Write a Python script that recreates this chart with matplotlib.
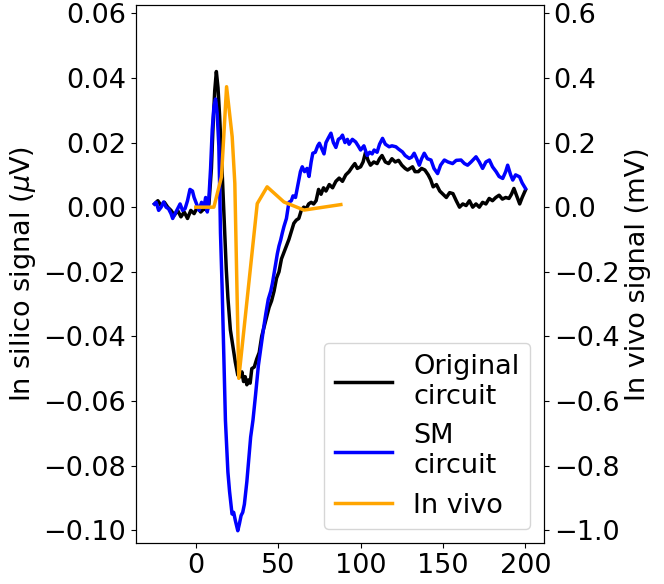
import matplotlib
matplotlib.use('Agg')
import matplotlib.pyplot as plt
import numpy as np

# Original circuit (in silico, uV)
orig_t = [-25, -23, -21, -19, -17, -15, -13, -11, -9, -7, -5, -3, -1, 1, 3, 5, 7, 8,
          9.5, 10.5, 11.5, 12.5, 13.5, 14.5, 15.5, 16.5, 17.5, 18.5, 19.5, 21, 22.5, 24,
          25.5, 27, 28, 29, 30, 31, 32, 33, 34, 35.5, 37, 38.5, 40, 41.5, 43, 44.5, 46,
          47.5, 49, 50.5, 52, 53.5, 55, 56.5, 58, 59.5, 61, 62.5, 64, 65.5, 67, 68.5, 70,
          71.5, 73, 74.5, 76, 77.5, 79, 81, 83, 85, 87, 89, 91, 93, 95, 96.5, 98, 100,
          101.5, 103, 104.5, 106, 108, 110, 111.5, 113, 115, 117, 119, 121, 123, 125, 127,
          128.5, 130, 131.5, 133, 135, 137, 139, 141, 142.5, 144, 146, 148, 150, 152, 154,
          156, 158, 160, 162, 164, 166, 168, 170, 172, 174, 176, 178, 180, 182, 184, 186,
          188, 190, 191.5, 193, 195, 196.5, 198, 200]
orig_v = [0.001, 0.002, 0.0005, 0.0015, 0.0, -0.001, -0.0025, -0.001, -0.003, -0.0015,
          -0.0035, -0.001, -0.002, 0.0, -0.0015, -0.0005, -0.001, 0.001,
          0.012, 0.025, 0.036, 0.042, 0.037, 0.028, 0.017, 0.005, -0.007, -0.019, -0.028,
          -0.038, -0.043, -0.048, -0.052, -0.0525, -0.051, -0.054, -0.0525, -0.055,
          -0.0535, -0.0545, -0.050, -0.0495, -0.047, -0.045, -0.040, -0.037, -0.034,
          -0.031, -0.029, -0.026, -0.022, -0.020, -0.016, -0.014, -0.012, -0.010, -0.0075,
          -0.005, -0.004, -0.0035, -0.001, 0.0, -0.0005, 0.001, 0.0015, 0.001, 0.002,
          0.0055, 0.004, 0.006, 0.005, 0.007, 0.006, 0.008, 0.009, 0.008, 0.010, 0.011,
          0.0125, 0.0135, 0.012, 0.0125, 0.014, 0.017, 0.0145, 0.013, 0.014, 0.0135,
          0.015, 0.016, 0.014, 0.0135, 0.015, 0.014, 0.0145, 0.013, 0.012, 0.0115, 0.012,
          0.0125, 0.011, 0.011, 0.012, 0.0115, 0.010, 0.0085, 0.0063, 0.007, 0.005, 0.004,
          0.003, 0.0045, 0.0042, 0.002, 0.0, 0.001, 0.0005, 0.002, 0.0, 0.001, 0.0,
          0.0015, 0.001, 0.0027, 0.002, 0.003, 0.0037, 0.0025, 0.003, 0.0027, 0.004,
          0.0058, 0.003, 0.001, 0.003, 0.0053]

# SM circuit (in silico, uV)
sm_t = [-25, -24, -22.5, -21, -19.5, -18, -16.5, -15, -14, -12.5, -11, -9.5, -8, -6.5, -5,
        -3.5, -2, -1, 0.5, 2, 3.5, 5, 6, 7, 8, 9, 10, 11, 12, 13, 14, 14.6, 15, 16, 17,
        18, 19.5, 20.5, 22, 23, 24, 25.5, 26.5, 27.5, 28.5, 29.5, 31, 32, 33.3, 34.7,
        36.3, 38, 39.3, 41, 42.5, 44, 45.5, 46.5, 48, 49.5, 50.5, 51.5, 52.5, 53.5, 55,
        56.5, 58, 59, 60.5, 62, 63.5, 64.6, 66, 67.5, 68.7, 70, 71, 72.5, 74, 75, 76.5,
        77.8, 79, 80.5, 82, 83.5, 85, 86.5, 88, 89, 90.5, 92, 93, 95, 97, 98.5, 100, 102,
        104, 105.5, 107, 108.2, 110, 111.5, 113.3, 115, 117.3, 119, 121.4, 123, 125.4,
        127, 129.5, 131, 132.5, 134, 135.6, 137, 138.6, 140.5, 142.7, 144.5, 146.7,
        148.5, 150.8, 153, 155.8, 158, 160.9, 163, 164.9, 167, 170, 172, 174, 176, 178.1,
        180, 182.2, 184, 186.2, 188, 189.2, 191, 192.3, 194, 196.4, 198, 200]
sm_v = [0.001, 0.0015, -0.001, 0.0, 0.0016, 0.0, -0.0005, -0.002, -0.0035, -0.002,
        -0.0005, 0.001, -0.001, -0.0005, 0.002, 0.0055, 0.005, 0.003, 0.001, -0.001,
        0.0015, 0.0, 0.003, -0.0015, 0.003, 0.012, 0.024, 0.031, 0.0335, 0.029, 0.019,
        0.004, -0.008, -0.025, -0.045, -0.066, -0.082, -0.088, -0.095, -0.0945, -0.097,
        -0.1002, -0.098, -0.0955, -0.0945, -0.092, -0.085, -0.079, -0.0712, -0.066,
        -0.058, -0.049, -0.0443, -0.038, -0.033, -0.0285, -0.026, -0.0236, -0.019,
        -0.0144, -0.012, -0.0102, -0.008, -0.006, -0.0035, 0.0015, 0.002, 0.0035, 0.003,
        0.007, 0.011, 0.0125, 0.011, 0.012, 0.0095, 0.014, 0.0167, 0.017, 0.019, 0.0198,
        0.018, 0.0165, 0.020, 0.0215, 0.0229, 0.020, 0.0185, 0.021, 0.0215, 0.0223,
        0.020, 0.021, 0.0195, 0.021, 0.0202, 0.019, 0.0177, 0.019, 0.016, 0.017, 0.0165,
        0.0177, 0.017, 0.0195, 0.0213, 0.0195, 0.0187, 0.019, 0.0187, 0.018, 0.0171,
        0.016, 0.0151, 0.0155, 0.0167, 0.015, 0.013, 0.015, 0.0167, 0.015, 0.0146,
        0.012, 0.0104, 0.013, 0.0146, 0.014, 0.0135, 0.0145, 0.0146, 0.0135, 0.013,
        0.014, 0.0156, 0.014, 0.012, 0.014, 0.0146, 0.0125, 0.011, 0.0095, 0.0089, 0.011,
        0.013, 0.010, 0.0084, 0.010, 0.0094, 0.0075, 0.0058]

# In vivo (mV)
vivo_t = [0, 11, 15.6, 18.7, 22.1, 23.7, 26.1, 37.3, 43.3, 53.5, 65.7, 88]
vivo_v = [0.0, 0.0, 0.094, 0.373, 0.218, 0.074, -0.53, 0.011, 0.063, 0.016, -0.009, 0.008]

plt.rcParams['font.size'] = 19.5

fig = plt.figure(figsize=(6.64, 5.84), dpi=100)
ax = fig.add_axes([0.2048, 0.0702, 0.6145, 0.9212])
l1, = ax.plot(orig_t, orig_v, color='k', lw=2.5, label='Original\ncircuit')
l2, = ax.plot(sm_t, sm_v, color='blue', lw=2.5, label='SM\ncircuit')
ax.set_xlim(-36.25, 211.25)
ax.set_ylim(-0.104, 0.0626)
ax.set_yticks(np.arange(-0.10, 0.061, 0.02))
ax.set_xticks([0, 50, 100, 150, 200])
ax.set_ylabel(r'In silico signal ($\mu$V)')

# in vivo trace on its own (mV) axis
ax2 = ax.twinx()
l3, = ax2.plot(vivo_t, vivo_v, color='orange', lw=2.5, label='In vivo')
ax2.set_ylim(-1.04, 0.626)
ax2.set_yticks(np.arange(-1.0, 0.61, 0.2))
ax2.set_ylabel('In vivo signal (mV)')

ax2.legend(handles=[l1, l2, l3], loc='lower right', handlelength=2.1)

fig.savefig('out.png', dpi=100)
